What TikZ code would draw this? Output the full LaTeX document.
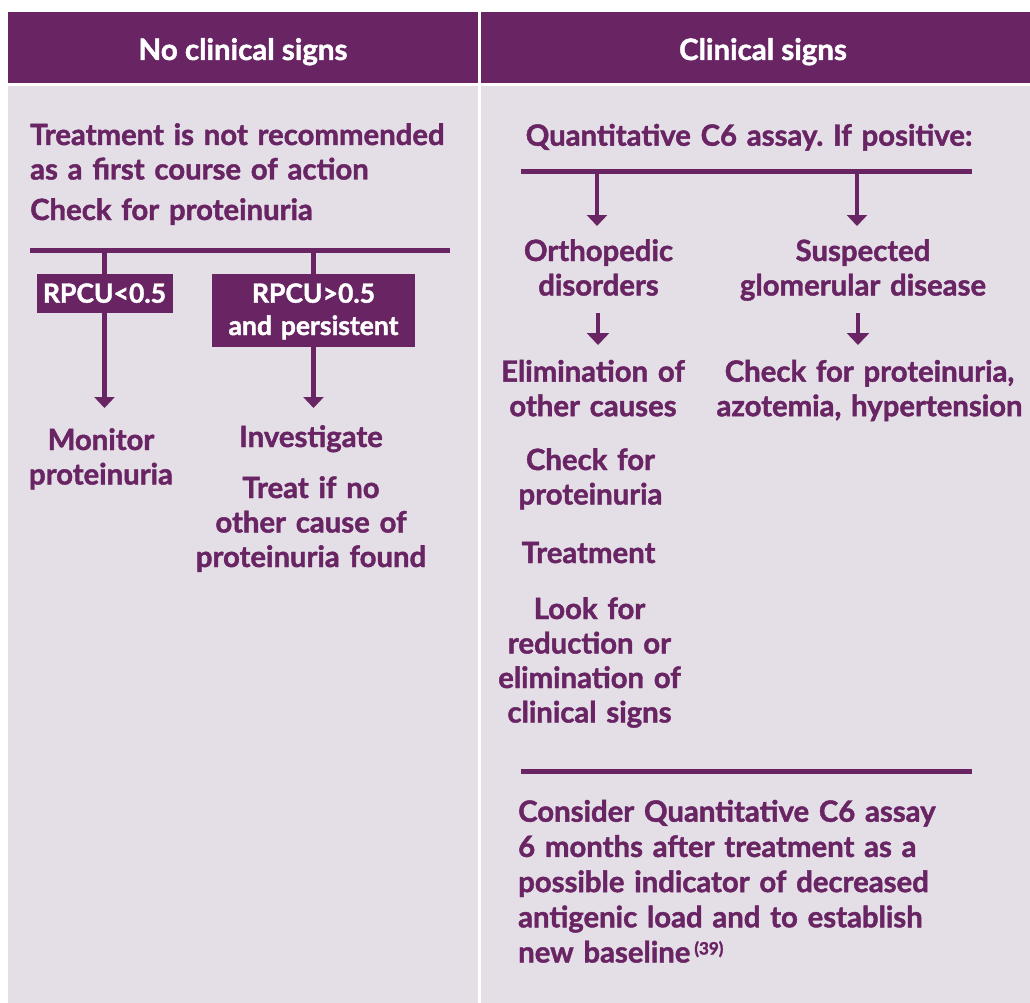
\documentclass[tikz,border=0pt]{standalone}
\usepackage{fontspec}
\setmainfont{Lato}[BoldFeatures={FakeBold=1.5}]
\usetikzlibrary{arrows.meta}
\definecolor{pp}{RGB}{104,36,99}
\definecolor{bg}{RGB}{228,222,231}
\frenchspacing
\begin{document}
\begin{tikzpicture}[x=1pt,y=-1pt,
  hdr/.style={fill=pp, text=white, font=\fontsize{29.5}{32}\selectfont\bfseries, inner sep=0pt, text height=25pt, text depth=0pt, minimum height=71pt},
  body/.style={fill=bg, inner sep=0pt, anchor=north west, minimum height=917pt},
  ltxt/.style={text=pp, font=\fontsize{29.3}{34.5}\selectfont\bfseries, inner sep=0pt, anchor=base west, align=left, text width=#1},
  ctxt/.style={text=pp, font=\fontsize{29.3}{34.5}\selectfont\bfseries, inner sep=0pt, anchor=base, align=center, text width=#1},
  pbox/.style={fill=pp, text=white, font=\fontsize{26.5}{32.3}\selectfont\bfseries, inner sep=0pt, align=center},
  bar/.style={draw=pp, line width=5pt},
  conn/.style={draw=pp, line width=4.5pt},
  arr/.style={conn, -{Triangle[width=20pt,length=11pt]}},
  sarr/.style={conn, -{Triangle[width=22pt,length=12pt]}}
]
\useasboundingbox (0,0) rectangle (1030,1003);
\fill[white] (0,0) rectangle (1030,1003);

% headers and panels
\node[hdr, minimum width=470pt] (hl) at (243,47.5) {No clinical signs};
\node[hdr, minimum width=549pt] (hr) at (755.5,47.5) {\hspace*{15pt}Clinical signs};
\node[body, minimum width=470pt] (bodyL) at (8,86) {};
\node[body, minimum width=549pt] (bodyR) at (481,86) {};

% ---------- left column ----------
\node[ltxt=440pt] (treat) at (30,145) {Treatment is not recommended\\as a first course of action};
\node[ltxt=440pt] (chk) at (30,220) {Check for proteinuria};
\coordinate (bl1) at (30,250.5);
\coordinate (bl2) at (450,250.5);
\draw[bar] (bl1) -- (bl2);

\node[pbox, minimum width=136pt, minimum height=39pt, text height=18.4pt, text depth=0pt] (r1) at (104.5,293.5) {RPCU<0.5};
\node[pbox, text width=203pt, minimum height=73pt, text height=18pt, text depth=33.6pt] (r2) at (313.5,310.5) {RPCU>0.5\\and persistent};

\coordinate (t1) at (104.5,408);
\coordinate (t2) at (313.5,408);
\draw[conn] (r1.north) -- (r1.north |- bl1);
\draw[conn] (r2.north) -- (r2.north |- bl1);
\draw[arr] (r1.south) -- (t1);
\draw[arr] (r2.south) -- (t2);

\node[ctxt=170pt] (mon) at (101,450) {Monitor\\proteinuria};
\node[ctxt=230pt] (inv) at (311,447) {Investigate};
\node[ctxt=250pt] (treatif) at (311,498) {Treat if no\\other cause of\\proteinuria found};

% ---------- right column ----------
\node[ctxt=470pt] (quant) at (749,145.7) {Quantitative C6 assay. If positive:};
\coordinate (br1) at (521,171.5);
\coordinate (br2) at (972,171.5);
\draw[bar] (br1) -- (br2);
\coordinate (ta) at (597,226);
\coordinate (tb) at (857,226);
\draw[arr] (ta |- br1) -- (ta);
\draw[arr] (tb |- br1) -- (tb);

\node[ctxt=200pt] (ortho) at (598.5,261) {Orthopedic\\disorders};
\node[ctxt=290pt] (susp) at (863,261) {Suspected\\glomerular disease};

\coordinate (sa1) at (598,313);
\coordinate (sa2) at (598,345);
\coordinate (sb1) at (858,313);
\coordinate (sb2) at (858,345);
\draw[sarr] (sa1) -- (sa2);
\draw[sarr] (sb1) -- (sb2);

\node[ctxt=210pt] (elim) at (593,381.7) {Elimination of\\other causes};
\node[ctxt=330pt] (chk2) at (869.5,381.7) {Check for proteinuria,\\azotemia, hypertension};
\node[ctxt=200pt] (chk3) at (590.5,470) {Check for\\proteinuria};
\node[ctxt=200pt] (treatm) at (588.5,563) {Treatment};
\node[ctxt=210pt] (look) at (589.5,619) {Look for\\reduction or\\elimination of\\clinical signs};

\coordinate (bb1) at (521,771);
\coordinate (bb2) at (972,771);
\draw[bar] (bb1) -- (bb2);

\node[ltxt=490pt, font=\fontsize{29.3}{35.2}\selectfont\bfseries] (cons) at (518,821.7) {Consider Quantitative C6 assay\\6 months after treatment as a\\possible indicator of decreased\\antigenic load and to establish\\new baseline\hspace{4pt}\raisebox{8pt}{\fontsize{17}{17}\selectfont (39)}};
\end{tikzpicture}
\end{document}
